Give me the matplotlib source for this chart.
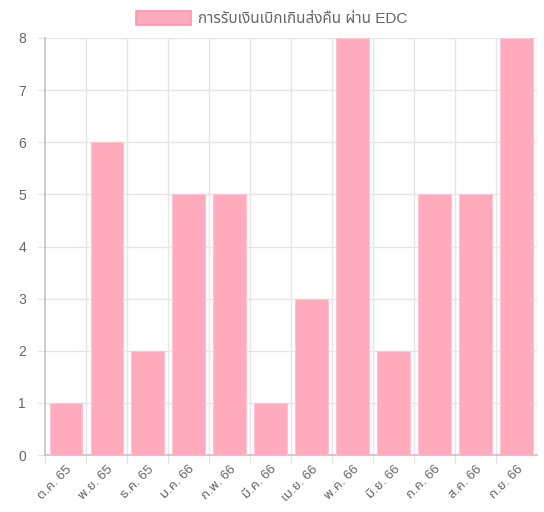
import matplotlib
matplotlib.use('Agg')
import matplotlib.pyplot as plt
from matplotlib.patches import Patch
import numpy as np

plt.rcParams['font.family'] = ['Liberation Sans', 'Noto Sans Thai', 'DejaVu Sans']

months = ['ต.ค. 65', 'พ.ย. 65', 'ธ.ค. 65', 'ม.ค. 66', 'ก.พ. 66', 'มี.ค. 66',
          'เม.ย. 66', 'พ.ค. 66', 'มิ.ย. 66', 'ก.ค. 66', 'ส.ค. 66', 'ก.ย. 66']
counts = [1, 6, 2, 5, 5, 1, 3, 8, 2, 5, 5, 8]
series_name = 'การรับเงินเบิกเกินส่งคืน ผ่าน EDC'

fill = '#ffabbd'
bar_edge = '#ffc4d0'
edge = '#ff95aa'
grid_c = '#e6e6e6'
text_c = '#666666'

fig = plt.figure(figsize=(5.44, 5.12), dpi=100)
ax = fig.add_axes([0.0836, 0.1113, 0.9035, 0.8145])

x = np.arange(len(months))
ax.bar(x, counts, width=0.8, color=fill, edgecolor=bar_edge, linewidth=0.8, zorder=3)

ax.set_xlim(-0.5, len(months) - 0.5)
ax.set_ylim(0, 8)
ax.set_yticks(range(0, 9))
ax.set_xticks(x)
ax.set_xticklabels(months, rotation=45, ha='right', va='top', rotation_mode='anchor')

# grid like chart.js: vertical lines at category boundaries
for b in np.arange(0.5, len(months), 1):
    ax.axvline(b, color=grid_c, lw=1, zorder=1)
ax.axvline(len(months) - 0.5, color=grid_c, lw=1, zorder=1)
for v in range(1, 9):
    ax.axhline(v, color=grid_c, lw=1, zorder=1)

for s in ['top', 'right']:
    ax.spines[s].set_visible(False)
for s in ['left', 'bottom']:
    ax.spines[s].set_color('#c4c4c4')
    ax.spines[s].set_linewidth(1.2)

ax.tick_params(axis='y', length=6, color=grid_c, labelcolor=text_c, labelsize=10, pad=8)
ax.tick_params(axis='x', length=0, labelcolor=text_c, labelsize=9.5, pad=6)
# small ticks below the axis at category boundaries
for b in np.arange(-0.5, len(months) - 0.5, 1):
    ax.plot([b, b], [0, -0.15], color=grid_c, lw=1, clip_on=False, zorder=1)

handle = Patch(facecolor=fill, edgecolor=edge, linewidth=1.2)
fig.legend([handle], [series_name], loc='upper center', bbox_to_anchor=(0.5, 1.0),
           frameon=False, fontsize=11, labelcolor=text_c,
           handlelength=3.6, handleheight=1.05, handletextpad=0.45, borderaxespad=0.3)

fig.savefig('out.png', dpi=100)
